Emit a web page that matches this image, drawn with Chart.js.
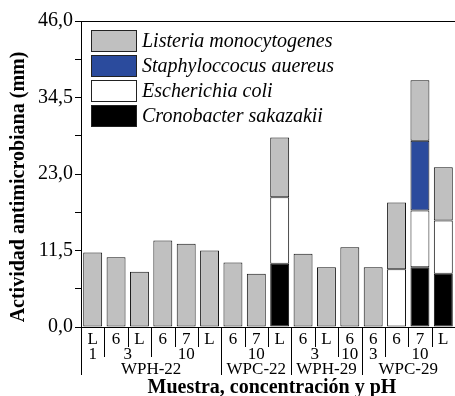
<!DOCTYPE html>
<html>
<head>
<meta charset="utf-8">
<script src="https://cdn.jsdelivr.net/npm/chart.js@4/dist/chart.umd.min.js"></script>
<style>
  html, body { margin: 0; padding: 0; background: #fff; }
  #wrap { position: relative; width: 455px; height: 396px; }
</style>
</head>
<body>
<div id="wrap"><canvas id="chart"></canvas></div>
<script>
// ── data ────────────────────────────────────────────────────────────────────
const phLabels   = ['L', '6', 'L', '6', '7', 'L', '6', '7', 'L', '6', 'L', '6', '6', '6', '7', 'L'];
const concLabels = ['1', '3', '3', '10', '10', '10', '10', '10', '10', '3', '3', '10', '3', '10', '10', '10'];
const sampleLabels = ['WPH-22', 'WPH-22', 'WPH-22', 'WPH-22', 'WPH-22', 'WPH-22',
                      'WPC-22', 'WPC-22', 'WPC-22',
                      'WPH-29', 'WPH-29', 'WPH-29',
                      'WPC-29', 'WPC-29', 'WPC-29', 'WPC-29'];

const cronobacter = [null, null, null, null, null, null, null, null, 9.5, null, null, null, null, null, 9.0, 8.0];
const escherichia = [null, null, null, null, null, null, null, null, 10.0, null, null, null, null, 8.7, 8.5, 8.0];
const staphylo    = [null, null, null, null, null, null, null, null, null, null, null, null, null, null, 10.5, null];
const listeria    = [11.2, 10.5, 8.3, 13.0, 12.5, 11.5, 9.7, 8.0, 9.0, 11.0, 9.0, 12.0, 9.0, 10.0, 9.1, 8.0];

const yMax = 46;
const yStep = 5.75;

const SERIF = "'Liberation Serif', 'Times New Roman', serif";

// ── plugin: grouped x labels, separators, top frame, legend, titles ─────────
const decorations = {
  id: 'decorations',
  afterDraw(chart) {
    const { ctx, chartArea: ca, scales: { x } } = chart;
    const n = phLabels.length;
    const half = (x.getPixelForValue(1) - x.getPixelForValue(0)) / 2;
    const edge = i => x.getPixelForValue(i) - half;

    ctx.save();
    ctx.strokeStyle = '#000';
    ctx.lineWidth = 1;

    // top frame line
    ctx.beginPath();
    ctx.moveTo(ca.left, ca.top + 0.5);
    ctx.lineTo(ca.right, ca.top + 0.5);
    ctx.stroke();

    // separators below the axis
    for (let i = 0; i < n; i++) {
      let len = 20;
      if (i === 0 || sampleLabels[i] !== sampleLabels[i - 1]) len = 48;
      else if (concLabels[i] !== concLabels[i - 1]) len = 30;
      const px = Math.round(edge(i)) + 0.5;
      ctx.beginPath();
      ctx.moveTo(px, ca.bottom);
      ctx.lineTo(px, ca.bottom + len);
      ctx.stroke();
    }

    ctx.fillStyle = '#000';
    ctx.textAlign = 'center';
    ctx.textBaseline = 'middle';
    ctx.font = `17px ${SERIF}`;

    // row 1: pH
    phLabels.forEach((t, i) => ctx.fillText(t, x.getPixelForValue(i), ca.bottom + 13));

    // rows 2 and 3: groups
    function groups(keyFn) {
      const out = [];
      let start = 0;
      for (let i = 1; i <= n; i++) {
        if (i === n || keyFn(i) !== keyFn(start)) {
          out.push({ start, end: i - 1 });
          start = i;
        }
      }
      return out;
    }
    groups(i => sampleLabels[i] + '|' + concLabels[i]).forEach(g => {
      const cx = (x.getPixelForValue(g.start) + x.getPixelForValue(g.end)) / 2;
      ctx.fillText(concLabels[g.start], cx, ca.bottom + 28);
    });
    groups(i => sampleLabels[i]).forEach(g => {
      const cx = (x.getPixelForValue(g.start) + x.getPixelForValue(g.end)) / 2;
      ctx.fillText(sampleLabels[g.start], cx, ca.bottom + 43);
    });

    // axis titles
    ctx.font = `bold 20px ${SERIF}`;
    ctx.textBaseline = 'alphabetic';
    ctx.fillText('Muestra, concentración y pH', 272, 393);
    ctx.save();
    ctx.translate(19, 187);
    ctx.rotate(-Math.PI / 2);
    ctx.textBaseline = 'middle';
    ctx.fillText('Actividad antimicrobiana (mm)', 0, 0);
    ctx.restore();

    // legend (top of stack first)
    const items = chart.data.datasets.slice().reverse();
    ctx.textAlign = 'left';
    ctx.textBaseline = 'middle';
    ctx.font = `italic 20px ${SERIF}`;
    items.forEach((ds, k) => {
      const y0 = 30 + k * 25;
      ctx.fillStyle = ds.backgroundColor;
      ctx.fillRect(91, y0, 46, 22);
      ctx.strokeStyle = '#222';
      ctx.strokeRect(91.5, y0 + 0.5, 45, 21);
      ctx.fillStyle = '#000';
      ctx.fillText(ds.label, 142, y0 + 12);
    });
    ctx.restore();
  }
};

// ── chart ───────────────────────────────────────────────────────────────────
const barStyle = { borderColor: '#111', borderWidth: 1, borderSkipped: false, categoryPercentage: 1, barPercentage: 0.81 };

new Chart(document.getElementById('chart'), {
  type: 'bar',
  data: {
    labels: phLabels,
    datasets: [
      { label: 'Cronobacter sakazakii', data: cronobacter, backgroundColor: '#000000', ...barStyle },
      { label: 'Escherichia coli', data: escherichia, backgroundColor: '#ffffff', ...barStyle },
      { label: 'Staphyloccocus auereus', data: staphylo, backgroundColor: '#2b4b9d', ...barStyle },
      { label: 'Listeria monocytogenes', data: listeria, backgroundColor: '#c0c0c0', ...barStyle },
    ],
  },
  options: {
    responsive: true,
    maintainAspectRatio: false,
    animation: false,
    layout: { padding: { top: 21, left: 0, right: 0, bottom: 0 } },
    plugins: { legend: { display: false }, tooltip: { enabled: false } },
    scales: {
      x: {
        stacked: true,
        grid: { display: false },
        border: { display: true, color: '#000', width: 1 },
        ticks: { display: false },
        afterFit: s => { s.height = 69; },
      },
      y: {
        stacked: true,
        min: 0,
        max: yMax,
        grid: { display: true, drawOnChartArea: false, drawTicks: true, tickLength: 6, color: '#000' },
        border: { display: true, color: '#000', width: 1 },
        ticks: {
          stepSize: yStep,
          padding: 2,
          color: '#000',
          font: { family: SERIF, size: 20 },
          callback: (v, i) => (i % 2 === 0 ? v.toFixed(1).replace('.', ',') : ''),
        },
        afterFit: s => { s.width = 81; },
      },
    },
  },
  plugins: [decorations],
});
</script>
</body>
</html>
